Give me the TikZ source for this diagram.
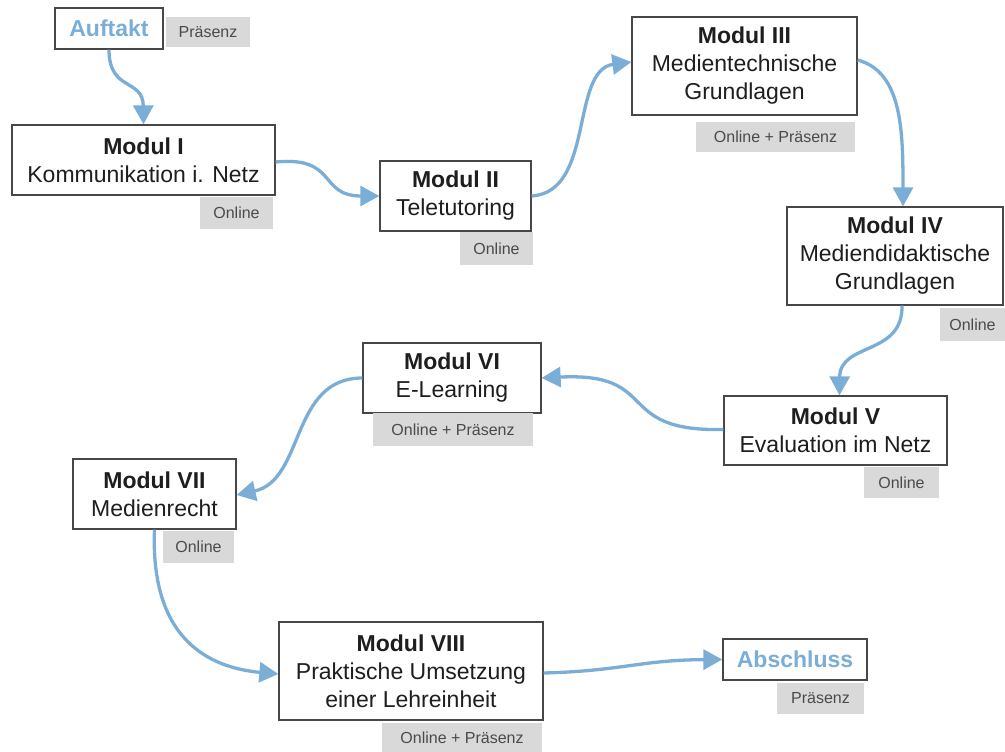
\documentclass[tikz,border=0pt]{standalone}
\usepackage{fontspec}
\setmainfont{Liberation Sans}
\usetikzlibrary{arrows.meta}
\definecolor{flow}{HTML}{7BAED6}
\definecolor{boxline}{HTML}{474747}
\definecolor{tagbg}{HTML}{D9D9D9}
\definecolor{tagtxt}{HTML}{4A4A4A}
\definecolor{txt}{HTML}{1E1E1E}
\tikzset{
  modbox/.style={draw=boxline, line width=1.3pt, fill=white, inner sep=0pt, align=center,
    text=txt, font=\fontsize{23}{28}\selectfont},
  endbox/.style={modbox, text=flow, font=\fontsize{23}{28}\selectfont\bfseries},
  tag/.style={fill=tagbg, inner sep=0pt, text=tagtxt, font=\fontsize{16}{18}\selectfont},
  flowarrow/.style={draw=flow, line width=3.3pt, -{Triangle[length=19pt,width=20pt]}}
}
\begin{document}
\begin{tikzpicture}[x=1pt,y=-1pt]
\useasboundingbox (0,0) rectangle (1005,752);
% boxes
\node[endbox, minimum width=108, minimum height=41] (auf) at (109,28.5) {Auftakt};
\node[modbox, minimum width=263, minimum height=70] (m1) at (143.5,160) {\textbf{Modul I}\\Kommunikation i. Netz};
\node[modbox, minimum width=151, minimum height=70] (m2) at (455.5,196) {\textbf{Modul II}\\Teletutoring};
\node[modbox, minimum width=225, minimum height=98] (m3) at (744.5,66) {\textbf{Modul III}\\Medientechnische\\Grundlagen};
\node[modbox, minimum width=216, minimum height=98] (m4) at (895,256) {\textbf{Modul IV}\\Mediendidaktische\\Grundlagen};
\node[modbox, minimum width=223, minimum height=69] (m5) at (835.5,430.5) {\textbf{Modul V}\\Evaluation im Netz};
\node[modbox, minimum width=178, minimum height=70] (m6) at (452,378) {\textbf{Modul VI}\\E-Learning};
\node[modbox, minimum width=163, minimum height=70] (m7) at (154.5,494) {\textbf{Modul VII}\\Medienrecht};
\node[modbox, minimum width=264, minimum height=98] (m8) at (411,671) {\textbf{Modul VIII}\\Praktische Umsetzung\\einer Lehreinheit};
\node[endbox, minimum width=144, minimum height=41] (abs) at (795,659.5) {Abschluss};
% tags
\node[tag, minimum width=84, minimum height=30] (tauf) at (208,32) {Präsenz};
\node[tag, minimum width=73, minimum height=32] (t1) at (236.5,213) {Online};
\node[tag, minimum width=73, minimum height=33] (t2) at (496.5,248.5) {Online};
\node[tag, minimum width=159, minimum height=30] (t3) at (775.5,137) {Online + Präsenz};
\node[tag, minimum width=65, minimum height=33] (t4) at (972.5,324.5) {Online};
\node[tag, minimum width=75, minimum height=31] (t5) at (901.5,482.5) {Online};
\node[tag, minimum width=160, minimum height=33] (t6) at (453,429.5) {Online + Präsenz};
\node[tag, minimum width=71, minimum height=32] (t7) at (198.5,547) {Online};
\node[tag, minimum width=160, minimum height=29] (t8) at (462,737.5) {Online + Präsenz};
\node[tag, minimum width=87, minimum height=31] (tabs) at (820.5,698.5) {Präsenz};
% connectors
\draw[flowarrow] (auf.south) .. controls (109,92) and (143,78) .. (m1.north);
\draw[flowarrow] ([yshift=-2pt]m1.east) .. controls (338,156) and (318,196) .. (m2.west);
\draw[flowarrow] (m2.east) .. controls (595,192) and (570,70) .. ([yshift=4pt]m3.west);
\draw[flowarrow] ([yshift=6pt]m3.east) .. controls (902,72) and (903,130) .. ([xshift=8pt]m4.north);
\draw[flowarrow] ([xshift=7pt]m4.south) .. controls (903,356) and (840,342) .. ([xshift=4pt]m5.north);
\draw[flowarrow] ([yshift=1pt]m5.west) .. controls (612,432) and (662,372) .. (m6.east);
\draw[flowarrow] (m6.west) .. controls (290,378) and (305,480) .. ([yshift=-1pt]m7.east);
\draw[flowarrow] (m7.south) .. controls (150,642) and (212,668) .. ([yshift=-3pt]m8.west);
\draw[flowarrow] ([yshift=-2pt]m8.east) .. controls (622,671) and (640,660) .. (abs.west);
\end{tikzpicture}
\end{document}
